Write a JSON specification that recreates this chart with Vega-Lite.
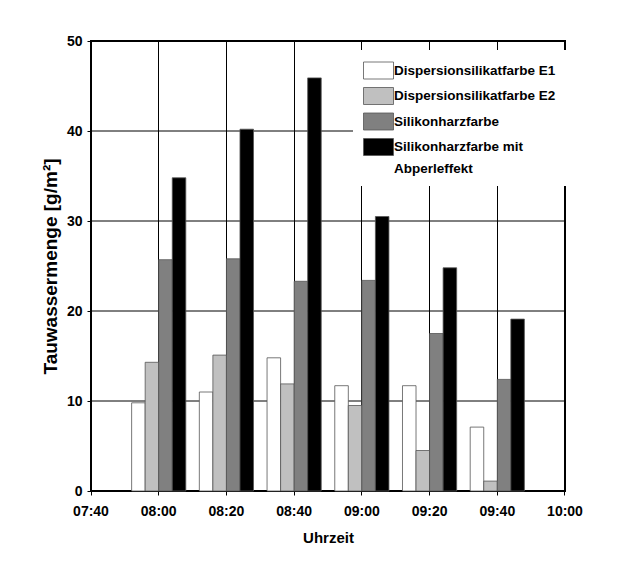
{
  "$schema": "https://vega.github.io/schema/vega-lite/v6.json",
  "width": 474,
  "height": 450,
  "autosize": {"type": "none"},
  "padding": {"left": 91, "top": 41, "right": 72, "bottom": 81},
  "background": "white",
  "config": {
    "font": "Liberation Sans",
    "view": {"stroke": "black", "strokeWidth": 2},
    "axis": {
      "gridColor": "black",
      "gridWidth": 1,
      "gridOpacity": 1,
      "domain": false,
      "tickColor": "black",
      "tickSize": 4,
      "labelFont": "Liberation Sans",
      "labelFontSize": 14,
      "labelFontWeight": "bold",
      "labelColor": "black",
      "labelFlush": false,
      "labelOverlap": false,
      "titleColor": "black"
    }
  },
  "layer": [
    {
      "data": {"values": [{"g": 10}, {"g": 20}, {"g": 30}, {"g": 40}]},
      "mark": {"type": "rule", "color": "black", "strokeWidth": 1},
      "encoding": {
        "y": {
          "field": "g",
          "type": "quantitative",
          "axis": {
            "title": "Tauwassermenge [g/m²]",
            "titleFont": "Liberation Sans",
            "titleFontSize": 19,
            "titleFontWeight": "bold",
            "titlePadding": 6,
            "values": [0, 10, 20, 30, 40, 50],
            "labelPadding": 5,
            "grid": false
          }
        }
      }
    },
    {
      "data": {
        "values": [
          {"time": "08:00", "series": "Dispersionsilikatfarbe E1", "value": 9.8},
          {"time": "08:00", "series": "Dispersionsilikatfarbe E2", "value": 14.3},
          {"time": "08:00", "series": "Silikonharzfarbe", "value": 25.7},
          {"time": "08:00", "series": "Silikonharzfarbe mit Abperleffekt", "value": 34.8},
          {"time": "08:20", "series": "Dispersionsilikatfarbe E1", "value": 11.0},
          {"time": "08:20", "series": "Dispersionsilikatfarbe E2", "value": 15.1},
          {"time": "08:20", "series": "Silikonharzfarbe", "value": 25.8},
          {"time": "08:20", "series": "Silikonharzfarbe mit Abperleffekt", "value": 40.2},
          {"time": "08:40", "series": "Dispersionsilikatfarbe E1", "value": 14.8},
          {"time": "08:40", "series": "Dispersionsilikatfarbe E2", "value": 11.9},
          {"time": "08:40", "series": "Silikonharzfarbe", "value": 23.3},
          {"time": "08:40", "series": "Silikonharzfarbe mit Abperleffekt", "value": 45.9},
          {"time": "09:00", "series": "Dispersionsilikatfarbe E1", "value": 11.7},
          {"time": "09:00", "series": "Dispersionsilikatfarbe E2", "value": 9.5},
          {"time": "09:00", "series": "Silikonharzfarbe", "value": 23.4},
          {"time": "09:00", "series": "Silikonharzfarbe mit Abperleffekt", "value": 30.5},
          {"time": "09:20", "series": "Dispersionsilikatfarbe E1", "value": 11.7},
          {"time": "09:20", "series": "Dispersionsilikatfarbe E2", "value": 4.5},
          {"time": "09:20", "series": "Silikonharzfarbe", "value": 17.5},
          {"time": "09:20", "series": "Silikonharzfarbe mit Abperleffekt", "value": 24.8},
          {"time": "09:40", "series": "Dispersionsilikatfarbe E1", "value": 7.1},
          {"time": "09:40", "series": "Dispersionsilikatfarbe E2", "value": 1.1},
          {"time": "09:40", "series": "Silikonharzfarbe", "value": 12.4},
          {"time": "09:40", "series": "Silikonharzfarbe mit Abperleffekt", "value": 19.1}
        ]
      },
      "mark": {"type": "bar", "stroke": "#555555", "strokeWidth": 0.8},
      "encoding": {
        "x": {
          "field": "time",
          "type": "ordinal",
          "scale": {
            "domain": ["07:40", "08:00", "08:20", "08:40", "09:00", "09:20", "09:40", "10:00"],
            "range": [-33.857, 507.857],
            "paddingInner": 0,
            "paddingOuter": 0
          },
          "axis": {
            "title": "Uhrzeit",
            "titleFont": "Liberation Sans",
            "titleFontSize": 15,
            "titleFontWeight": "bold",
            "titlePadding": 12,
            "labelAngle": 0,
            "labelPadding": 9,
            "bandPosition": 0.5,
            "grid": true
          }
        },
        "xOffset": {
          "field": "series",
          "type": "nominal",
          "sort": ["Dispersionsilikatfarbe E1", "Dispersionsilikatfarbe E2", "Silikonharzfarbe", "Silikonharzfarbe mit Abperleffekt"],
          "scale": {"paddingInner": 0, "paddingOuter": 0.5}
        },
        "y": {
          "field": "value",
          "type": "quantitative",
          "stack": null,
          "scale": {"domain": [0, 50], "nice": false},
          "axis": {
            "title": "Tauwassermenge [g/m²]",
            "titleFont": "Liberation Sans",
            "titleFontSize": 19,
            "titleFontWeight": "bold",
            "titlePadding": 6,
            "values": [0, 10, 20, 30, 40, 50],
            "labelPadding": 5,
            "grid": false
          }
        },
        "fill": {
          "field": "series",
          "type": "nominal",
          "sort": ["Dispersionsilikatfarbe E1", "Dispersionsilikatfarbe E2", "Silikonharzfarbe", "Silikonharzfarbe mit Abperleffekt"],
          "scale": {
            "domain": ["Dispersionsilikatfarbe E1", "Dispersionsilikatfarbe E2", "Silikonharzfarbe", "Silikonharzfarbe mit Abperleffekt"],
            "range": ["#ffffff", "#c0c0c0", "#808080", "#000000"]
          },
          "legend": {
            "title": null,
            "orient": "none",
            "legendX": 262,
            "legendY": 9,
            "fillColor": "white",
            "padding": 10,
            "symbolType": "M-1,-0.85H2V0.85H-1Z",
            "symbolSize": 400,
            "symbolStrokeColor": "#555555",
            "symbolStrokeWidth": 0.8,
            "symbolOpacity": 1,
            "labelFont": "Liberation Sans",
            "labelFontSize": 13.5,
            "labelFontWeight": "bold",
            "labelColor": "black",
            "labelLimit": 300,
            "labelOffset": 10,
            "rowPadding": 4.5,
            "labelExpr": "datum.label == 'Silikonharzfarbe mit Abperleffekt' ? ['Silikonharzfarbe mit', 'Abperleffekt'] : datum.label",
            "encode": {
              "labels": {
                "update": {
                  "baseline": {"value": "top"},
                  "dy": {"value": -7},
                  "lineHeight": {"value": 22}
                }
              }
            }
          }
        }
      }
    }
  ]
}
